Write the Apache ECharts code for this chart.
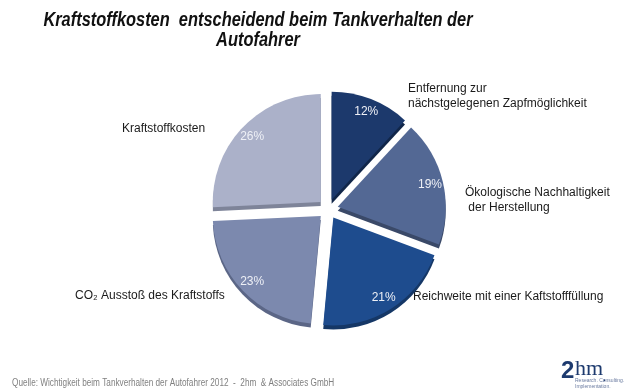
<!DOCTYPE html>
<html><head><meta charset="utf-8">
<script src="https://cdn.jsdelivr.net/npm/echarts@6/dist/echarts.min.js"></script>
<style>html,body{margin:0;padding:0;background:#fff}#c{width:640px;height:392px}</style>
</head><body><div id="c"></div>
<script>
const titleLines = ['Kraftstoffkosten  entscheidend beim Tankverhalten der', 'Autofahrer'];
const categories = [
  'Entfernung zur\nnächstgelegenen Zapfmöglichkeit',
  'Ökologische Nachhaltigkeit\n der Herstellung',
  'Reichweite mit einer Kaftstofffüllung',
  'CO₂ Ausstoß des Kraftstoffs',
  'Kraftstoffkosten'
];
const values = [12, 19, 21, 23, 26];
const sourceText = 'Quelle: Wichtigkeit beim Tankverhalten der Autofahrer 2012  -  2hm  & Associates GmbH';

// styles
const colors = ['#1c396c', '#536894', '#1e4c8e', '#7c89ae', '#abb1c9'];
const rimColors = ['#112649', '#3a4968', '#153766', '#5b6686', '#7e8499'];
const outerPos = [[408, 96], [465, 200], [413, 297], [75, 296], [122, 129]];
const CX = 328, CY = 209, R = 108, OFF = 10;
const FONT = "'Liberation Sans', Arial, sans-serif";

const chart = echarts.init(document.getElementById('c'));
const baseData = (styleFn) => values.map((v, i) => Object.assign({ name: categories[i], value: v, selected: true }, styleFn(i)));

const graphics = [];
titleLines.forEach((t, k) => graphics.push({
  type: 'text', x: 258, y: 20 + k * 20, scaleX: 0.82,
  style: { text: t, fill: '#111', font: "italic bold 20px " + FONT, align: 'center', verticalAlign: 'middle' }
}));
categories.forEach((c, i) => graphics.push({
  type: 'text', x: outerPos[i][0], y: outerPos[i][1],
  style: { text: c, fill: '#1a1a1a', font: "12px " + FONT, lineHeight: 15, align: 'left', verticalAlign: 'middle' }
}));
graphics.push(
  { type: 'text', x: 12, y: 383, scaleX: 0.82, style: { text: sourceText, fill: '#808080', font: "10px " + FONT, verticalAlign: 'middle' } },
  { type: 'text', x: 561, y: 359, style: { text: '2', fill: '#1d3a6e', font: "bold 24px " + FONT } },
  { type: 'text', x: 575, y: 358, style: { text: 'hm', fill: '#1d3a6e', font: "22px 'Liberation Serif', serif" } },
  { type: 'text', x: 603, y: 373, style: { text: '.', fill: '#1d3a6e', font: "bold 10px " + FONT } },
  { type: 'text', x: 575, y: 378, style: { text: 'Research. Consulting.', fill: '#6a7ba0', font: "5px " + FONT } },
  { type: 'text', x: 575, y: 384, style: { text: 'Implementation.', fill: '#6a7ba0', font: "5px " + FONT } }
);

chart.setOption({
  backgroundColor: '#ffffff',
  animation: false,
  series: [
    {
      type: 'pie', center: [CX, CY], radius: [0, R], startAngle: 90, clockwise: true,
      selectedMode: 'multiple', selectedOffset: OFF, silent: true,
      label: { show: false }, labelLine: { show: false },
      emphasis: { disabled: true },
      data: baseData(i => ({ itemStyle: { color: colors[i], shadowColor: rimColors[i], shadowOffsetY: 4, shadowBlur: 0 } }))
    },
    {
      type: 'pie', center: [CX, CY], radius: [0, R * 1.7], startAngle: 90, clockwise: true,
      selectedMode: 'multiple', selectedOffset: OFF, silent: true, z: 3,
      itemStyle: { color: 'rgba(0,0,0,0)' },
      label: { show: true, position: 'inside', formatter: p => p.value + '%', color: '#eef0f6', fontSize: 12, fontFamily: FONT },
      labelLine: { show: false }, emphasis: { disabled: true },
      data: baseData(() => ({}))
    }
  ],
  graphic: graphics
});
</script></body></html>
